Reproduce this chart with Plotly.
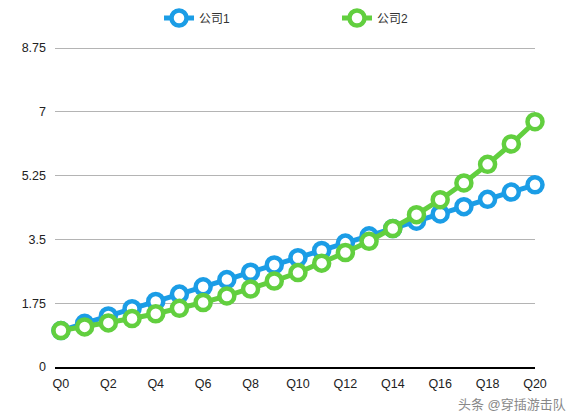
import plotly.graph_objects as go

quarters = [f"Q{i}" for i in range(21)]
company1 = [1.0, 1.2, 1.4, 1.6, 1.8, 2.0, 2.2, 2.4, 2.6, 2.8, 3.0,
            3.2, 3.4, 3.6, 3.8, 4.0, 4.2, 4.4, 4.6, 4.8, 5.0]
company2 = [1.0, 1.1, 1.21, 1.33, 1.46, 1.61, 1.77, 1.95, 2.14, 2.36, 2.59,
            2.85, 3.14, 3.45, 3.80, 4.18, 4.59, 5.05, 5.56, 6.12, 6.73]
y_ticks = [0, 1.75, 3.5, 5.25, 7, 8.75]

BLUE = "#1b9de6"
GREEN = "#62cf3f"
FONT = "Liberation Sans, Noto Sans CJK SC, sans-serif"

fig = go.Figure()
series = [("公司1", company1, BLUE, "legend"), ("公司2", company2, GREEN, "legend2")]
for name, vals, color, leg in series:
    fig.add_trace(go.Scatter(
        x=list(range(21)),
        y=vals,
        name=name,
        mode="lines+markers",
        line=dict(color=color, width=5),
        marker=dict(symbol="circle", size=15, color="white",
                    line=dict(color=color, width=4.5)),
        cliponaxis=False,
        legend=leg,
    ))

# the page body adds an 8px offset, so margins are shifted to compensate
leg_style = dict(
    orientation="h",
    xanchor="left",
    y=1.064,
    yanchor="middle",
    font=dict(size=12, color="#333"),
    bgcolor="rgba(0,0,0,0)",
)

fig.update_layout(
    width=581,
    height=420,
    margin=dict(l=47, r=54, t=31, b=61, autoexpand=False),
    paper_bgcolor="white",
    plot_bgcolor="white",
    font=dict(family=FONT, size=12, color="#222"),
    showlegend=True,
    legend=dict(x=0.2167, **leg_style),
    legend2=dict(x=0.5875, **leg_style),
    xaxis=dict(
        range=[-0.25, 20],
        tickmode="array",
        tickvals=list(range(0, 21, 2)),
        ticktext=quarters[::2],
        showgrid=False,
        showline=True,
        linecolor="black",
        linewidth=1.5,
        zeroline=False,
        ticks="",
        ticklabelstandoff=4,
        tickfont=dict(size=12.5, color="#222"),
    ),
    yaxis=dict(
        range=[0, 9.0],
        tickmode="array",
        tickvals=y_ticks,
        ticktext=["0", "1.75", "3.5", "5.25", "7", "8.75"],
        showgrid=True,
        gridcolor="#b4b4b4",
        gridwidth=1,
        zeroline=False,
        showline=False,
        ticks="",
        ticklabelstandoff=8,
        tickfont=dict(size=12.5, color="#222"),
    ),
    annotations=[dict(
        text="头条 @穿插游击队",
        xref="paper", yref="paper",
        x=1.069, y=-0.113,
        xanchor="right", yanchor="middle",
        showarrow=False,
        font=dict(size=13, color="#888"),
    )],
)

fig.write_html("out.html")
